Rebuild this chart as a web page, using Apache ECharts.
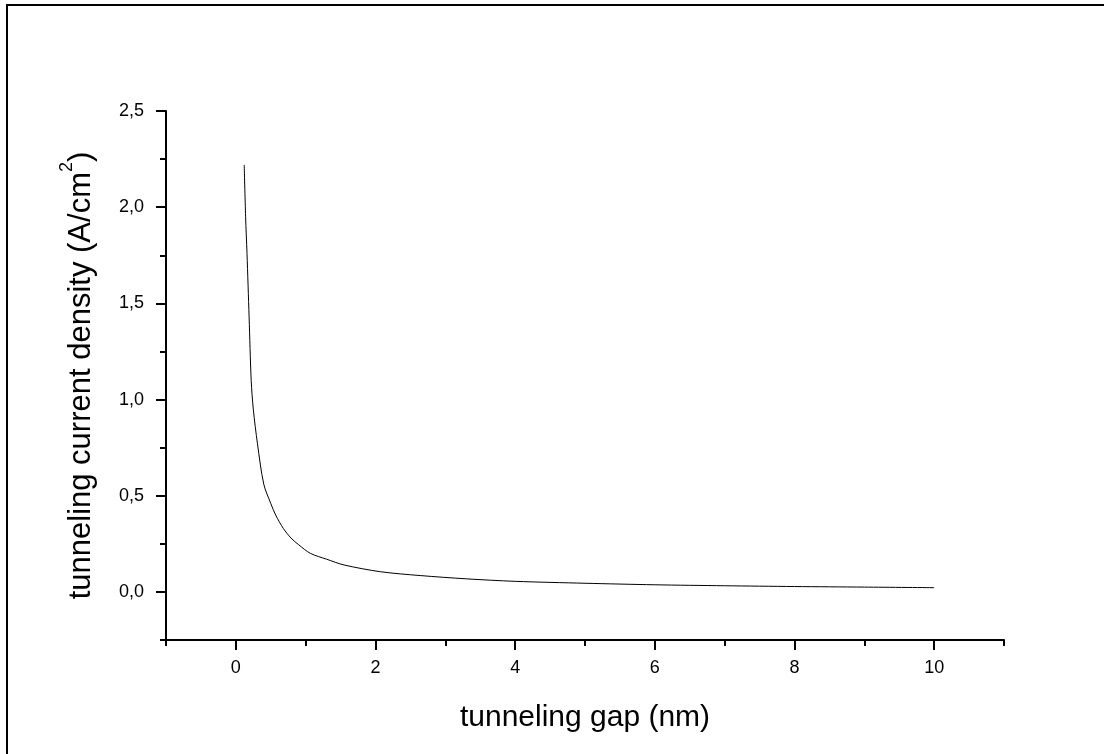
<!DOCTYPE html>
<html lang="en">
<head>
<meta charset="UTF-8">
<title>tunneling current density</title>
<script src="https://cdn.jsdelivr.net/npm/echarts@6/dist/echarts.min.js"></script>
<style>
    html, body { margin: 0; padding: 0; background: #fff; }
    #main { width: 1104px; height: 754px; }
</style>
</head>
<body>
<div id="main"></div>
<script>
// values
var gapNm = [0.12, 0.14, 0.16, 0.19, 0.22, 0.25, 0.31, 0.4, 0.5, 0.57, 0.68, 0.79, 0.9, 1.07, 1.3, 1.55, 2.07, 2.64, 3.3, 4, 5, 6, 7, 8, 9, 10];
var density = [2.22, 1.95, 1.76, 1.43, 1.1, 0.95, 0.77, 0.56, 0.46, 0.40, 0.33, 0.28, 0.245, 0.20, 0.17, 0.14, 0.105, 0.085, 0.068, 0.055, 0.045, 0.037, 0.032, 0.028, 0.025, 0.022];

var xMajor = [0, 2, 4, 6, 8, 10];
var xMinor = [-1, 1, 3, 5, 7, 9, 11];
var yMajor = [0, 0.5, 1, 1.5, 2, 2.5];
var yMinor = [-0.25, 0.25, 0.75, 1.25, 1.75, 2.25];

var points = [];
for (var i = 0; i < gapNm.length; i++) {
    points.push([gapNm[i], density[i]]);
}

function isIn(list, v) {
    for (var k = 0; k < list.length; k++) {
        if (Math.abs(list[k] - v) < 1e-6) return true;
    }
    return false;
}

var font = 'Liberation Sans';
var gridBox = { left: 166, right: 100, top: 111, bottom: 114 };

var myChart = echarts.init(document.getElementById('main'));

var option = {
    backgroundColor: '#fff',
    animation: false,
    textStyle: { fontFamily: font, fontSize: 18, color: '#000' },
    graphic: [
        { type: 'line', shape: { x1: 6, y1: 5, x2: 1104, y2: 5 }, style: { stroke: '#000', lineWidth: 2 } },
        { type: 'line', shape: { x1: 7, y1: 4, x2: 7, y2: 754 }, style: { stroke: '#000', lineWidth: 2 } }
    ],
    grid: [
        Object.assign({}, gridBox),
        Object.assign({}, gridBox)   // second grid only carries the minor ticks
    ],
    xAxis: [
        {
            type: 'value', gridIndex: 0, min: -1, max: 11, interval: 1,
            name: 'tunneling gap (nm)', nameLocation: 'middle', nameGap: 63,
            nameTextStyle: { color: '#000', fontSize: 30, fontFamily: font },
            axisLine: { onZero: false, lineStyle: { color: '#000', width: 2 } },
            axisTick: { customValues: xMajor, length: 10, lineStyle: { color: '#000', width: 2 } },
            axisLabel: {
                margin: 19, color: '#000', fontSize: 18, fontFamily: font,
                formatter: function (v) { return isIn(xMajor, v) ? String(v) : ''; }
            },
            splitLine: { show: false }
        },
        {
            type: 'value', gridIndex: 1, min: -1, max: 11, interval: 1,
            axisLine: { show: false, onZero: false },
            axisTick: { customValues: xMinor, length: 6, lineStyle: { color: '#000', width: 2 } },
            axisLabel: { show: false },
            splitLine: { show: false }
        }
    ],
    yAxis: [
        {
            type: 'value', gridIndex: 0, min: -0.25, max: 2.5, interval: 0.25,
            name: '{t|tunneling current density (A/cm}{s|2}{t|)}',
            nameLocation: 'middle', nameGap: 62,
            nameTextStyle: {
                color: '#000', fontSize: 31, fontFamily: font,
                rich: {
                    t: { fontSize: 31, fontFamily: font, color: '#000', lineHeight: 46 },
                    s: { fontSize: 18, fontFamily: font, color: '#000', verticalAlign: 'top', lineHeight: 18 }
                }
            },
            axisLine: { onZero: false, lineStyle: { color: '#000', width: 2 } },
            axisTick: { customValues: yMajor, length: 10, lineStyle: { color: '#000', width: 2 } },
            axisLabel: {
                margin: 22, color: '#000', fontSize: 18, fontFamily: font,
                formatter: function (v) { return isIn(yMajor, v) ? v.toFixed(1).replace('.', ',') : ''; }
            },
            splitLine: { show: false }
        },
        {
            type: 'value', gridIndex: 1, min: -0.25, max: 2.5, interval: 0.25,
            axisLine: { show: false, onZero: false },
            axisTick: { customValues: yMinor, length: 6, lineStyle: { color: '#000', width: 2 } },
            axisLabel: { show: false },
            splitLine: { show: false }
        }
    ],
    series: [
        {
            type: 'line',
            xAxisIndex: 0,
            yAxisIndex: 0,
            data: points,
            showSymbol: false,
            smooth: 0.3,
            lineStyle: { color: '#000', width: 1 }
        }
    ]
};

myChart.setOption(option);
</script>
</body>
</html>
